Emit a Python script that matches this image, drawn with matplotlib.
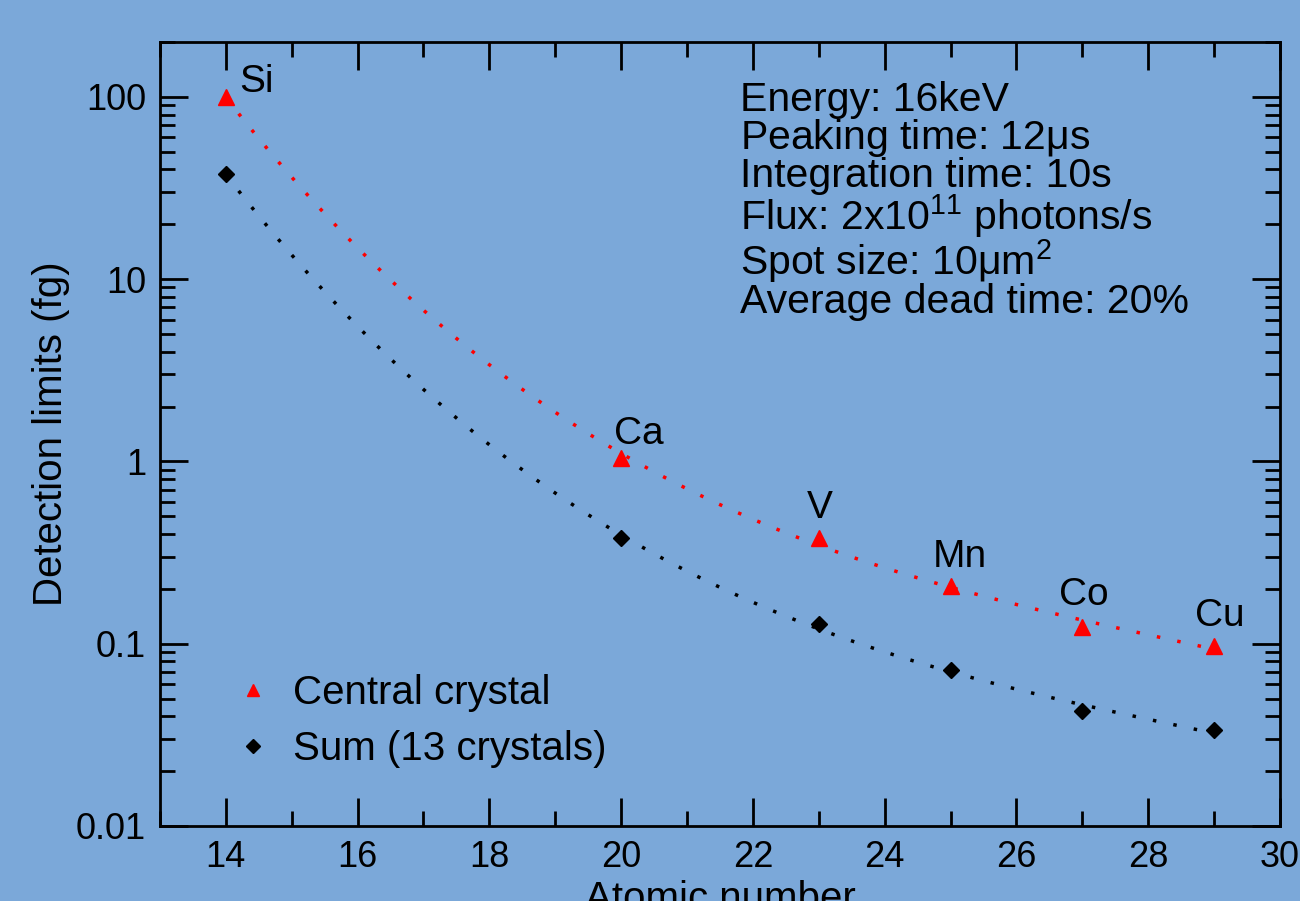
import matplotlib.pyplot as plt
import numpy as np

# Datos
numero_atomico = [14, 20, 23, 25, 27, 29]
elementos = ['Si', 'Ca', 'V', 'Mn', 'Co', 'Cu']
cristal_central = [100, 1.05, 0.378, 0.206, 0.123, 0.097]
suma_13 = [37.7, 0.378, 0.129, 0.0714, 0.0425, 0.0334]

info_lineas = ['Energy: 16keV',
               r'Peaking time: 12$\mathrm{\mu}$s',
               'Integration time: 10s',
               r'Flux: 2x10$^{11}$ photons/s',
               r'Spot size: 10$\mathrm{\mu}$m$^{2}$',
               'Average dead time: 20%']

fondo = '#7ba8d9'
plt.rcParams['font.family'] = ['Liberation Sans', 'DejaVu Sans']
plt.rcParams['mathtext.fontset'] = 'custom'
plt.rcParams['mathtext.rm'] = 'Liberation Sans'
plt.rcParams['mathtext.it'] = 'Liberation Sans'

fig = plt.figure(figsize=(13, 9.01), dpi=100, facecolor=fondo)
ax = fig.add_axes([0.123, 0.0833, 0.8616, 0.8701], facecolor=fondo)

# Curvas de ajuste (polinomio en escala log) calculadas a partir de los datos
x_fit = np.linspace(14, 29, 300)
for serie, color in [(cristal_central, 'red'), (suma_13, 'black')]:
    coef = np.polyfit(numero_atomico, np.log10(serie), 3)
    ax.plot(x_fit, 10 ** np.polyval(coef, x_fit), color=color,
            linestyle=(0, (1, 5)), linewidth=2.5)

ax.plot(numero_atomico, cristal_central, '^', color='red', markersize=11,
        linestyle='none', label='Central crystal')
ax.plot(numero_atomico, suma_13, 'D', color='black', markersize=8,
        linestyle='none', label='Sum (13 crystals)')

# Etiquetas de elementos
desplazamientos = {'Si': (22, -2), 'Ca': (13, 4), 'V': (1, 9),
                   'Mn': (7, 8), 'Co': (1, 10), 'Cu': (4, 9)}
for z, val, el in zip(numero_atomico, cristal_central, elementos):
    dx, dy = desplazamientos[el]
    ax.annotate(el, (z, val), xytext=(dx, dy), textcoords='offset points',
                ha='center', va='bottom', fontsize=28)

ax.text(0.518, 0.95, '\n'.join(info_lineas), transform=ax.transAxes,
        ha='left', va='top', fontsize=29.5, linespacing=0.93)

ax.set_yscale('log')
ax.set_xlim(13, 30)
ax.set_ylim(0.01, 200)
ax.set_xticks(range(14, 31, 2))
ax.set_xticks(range(13, 31), minor=True)
ax.set_yticks([0.01, 0.1, 1, 10, 100])
ax.set_yticklabels(['0.01', '0.1', '1', '10', '100'])

ax.tick_params(which='both', direction='in', top=True, right=True, width=2,
               labelsize=26, colors='black')
ax.tick_params(which='major', length=20, pad=10)
ax.tick_params(which='minor', length=11)
for lado in ax.spines.values():
    lado.set_linewidth(2)

ax.set_xlabel('Atomic number', fontsize=29, labelpad=4)
ax.set_ylabel('Detection limits (fg)', fontsize=29, labelpad=4)

ax.legend(loc='lower left', bbox_to_anchor=(0.029, 0.028), frameon=False,
          fontsize=29, handletextpad=0.4, labelspacing=0.45, markerscale=0.85,
          handlelength=1.2)

fig.savefig('out.png', dpi=100, facecolor=fondo)
